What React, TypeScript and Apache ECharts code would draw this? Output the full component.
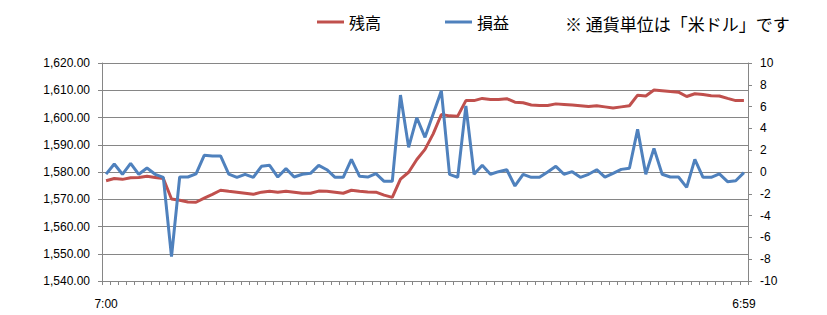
import React, { useEffect, useRef } from "react";
import * as echarts from "echarts";

const categories: string[] = [
  "7:00", "7:18", "7:37", "7:55", "8:14", "8:32", "8:51", "9:09", "9:28", "9:46",
  "10:04", "10:23", "10:41", "11:00", "11:18", "11:37", "11:55", "12:14", "12:32", "12:51",
  "13:09", "13:27", "13:46", "14:04", "14:23", "14:41", "15:00", "15:18", "15:37", "15:55",
  "16:13", "16:32", "16:50", "17:09", "17:27", "17:46", "18:04", "18:23", "18:41", "18:59",
  "19:18", "19:36", "19:55", "20:13", "20:32", "20:50", "21:09", "21:27", "21:46", "22:04",
  "22:22", "22:41", "22:59", "23:18", "23:36", "23:55", "0:13", "0:32", "0:50", "1:08",
  "1:27", "1:45", "2:04", "2:22", "2:41", "2:59", "3:18", "3:36", "3:55", "4:13",
  "4:31", "4:50", "5:08", "5:27", "5:45", "6:04", "6:22", "6:41", "6:59",
];

const balance: number[] = [
  1576.8, 1577.6, 1577.3, 1577.9, 1578.0, 1578.4, 1578.0, 1577.6, 1570.1, 1569.6,
  1569.0, 1568.9, 1570.4, 1571.8, 1573.3, 1572.9, 1572.6, 1572.2, 1571.8, 1572.6,
  1572.9, 1572.6, 1572.9, 1572.6, 1572.2, 1572.2, 1573.0, 1572.9, 1572.6, 1572.2,
  1573.3, 1572.9, 1572.7, 1572.6, 1571.5, 1570.7, 1577.4, 1579.9, 1584.6, 1588.3,
  1594.0, 1601.1, 1600.6, 1600.5, 1606.2, 1606.2, 1607.0, 1606.6, 1606.6, 1606.9,
  1605.6, 1605.4, 1604.6, 1604.4, 1604.4, 1605.0, 1604.8, 1604.6, 1604.3, 1604.0,
  1604.3, 1603.9, 1603.5, 1603.9, 1604.3, 1608.2, 1607.9, 1610.1, 1609.8, 1609.5,
  1609.3, 1607.7, 1608.7, 1608.4, 1608.0, 1607.9, 1607.0, 1606.2, 1606.2,
];

const profit: number[] = [
  -0.2, 0.73, -0.21, 0.8, -0.21, 0.37, -0.21, -0.49, -7.77, -0.46,
  -0.46, -0.18, 1.53, 1.47, 1.47, -0.2, -0.49, -0.21, -0.49, 0.52,
  0.61, -0.46, 0.31, -0.46, -0.21, -0.12, 0.61, 0.21, -0.49, -0.49,
  1.16, -0.4, -0.46, -0.15, -0.86, -0.86, 7.06, 2.26, 4.98, 3.18,
  5.32, 7.46, -0.21, -0.49, 6.06, -0.21, 0.61, -0.21, 0.03, 0.21,
  -1.28, -0.21, -0.49, -0.49, 0, 0.52, -0.21, 0.03, -0.49, -0.21,
  0.21, -0.46, -0.12, 0.24, 0.34, 3.91, -0.21, 2.17, -0.21, -0.46,
  -0.46, -1.41, 1.16, -0.49, -0.49, -0.18, -0.89, -0.8, -0.06,
];

const seriesNames = ["残高", "損益"];
const noteText = "※ 通貨単位は「米ドル」です";

const GRAY = "#868686";
const RED = "#C0504D";
const BLUE = "#4F81BD";
const FONT = "'Liberation Sans', Arial, sans-serif";
const CJK = "'Noto Sans CJK JP', sans-serif";

export default function App() {
  const ref = useRef<HTMLDivElement>(null);
  useEffect(() => {
    if (!ref.current) return;
    const chart = echarts.init(ref.current, undefined, { renderer: "svg" });
    const last = categories.length - 1;
    chart.setOption({
      animation: false,
      backgroundColor: "#ffffff",
      grid: { left: 102, right: 79, top: 63, bottom: 34, containLabel: false },
      legend: {
        left: 317,
        top: 14,
        padding: 0,
        icon: "rect",
        itemWidth: 27,
        itemHeight: 3,
        itemGap: 64,
        textStyle: { fontFamily: CJK, fontSize: 16, color: "#000" },
        data: [
          { name: seriesNames[0], itemStyle: { color: RED } },
          { name: seriesNames[1], itemStyle: { color: BLUE } },
        ],
      },
      graphic: [
        {
          type: "text",
          left: 565,
          top: 15,
          style: { text: noteText, fontFamily: CJK, fontSize: 17, fill: "#000" },
        },
      ],
      xAxis: {
        type: "category",
        data: categories,
        boundaryGap: true,
        axisLine: { onZero: false, lineStyle: { color: GRAY, width: 1 } },
        axisTick: { show: true, interval: 0, length: 4, lineStyle: { color: GRAY } },
        axisLabel: {
          interval: (i: number) => i === 0 || i === last,
          margin: 17,
          fontFamily: FONT,
          fontSize: 12,
          color: "#000",
        },
        splitLine: { show: false },
      },
      yAxis: [
        {
          type: "value",
          min: 1540,
          max: 1620,
          interval: 10,
          position: "left",
          axisLine: { show: true, lineStyle: { color: GRAY } },
          axisTick: { show: true, length: 4, lineStyle: { color: GRAY } },
          axisLabel: {
            margin: 12,
            fontFamily: FONT,
            fontSize: 12,
            color: "#000",
            formatter: (v: number) =>
              v.toLocaleString("en-US", { minimumFractionDigits: 2, maximumFractionDigits: 2 }),
          },
          splitLine: { show: true, lineStyle: { color: GRAY, width: 1 } },
        },
        {
          type: "value",
          min: -10,
          max: 10,
          interval: 2,
          position: "right",
          axisLine: { show: true, lineStyle: { color: GRAY } },
          axisTick: { show: true, length: 4, lineStyle: { color: GRAY } },
          axisLabel: { margin: 12, fontFamily: FONT, fontSize: 12, color: "#000" },
          splitLine: { show: false },
        },
      ],
      series: [
        {
          name: seriesNames[0],
          type: "line",
          yAxisIndex: 0,
          data: balance,
          symbol: "none",
          lineStyle: { color: RED, width: 3 },
          itemStyle: { color: RED },
        },
        {
          name: seriesNames[1],
          type: "line",
          yAxisIndex: 1,
          data: profit,
          symbol: "none",
          lineStyle: { color: BLUE, width: 3 },
          itemStyle: { color: BLUE },
        },
      ],
    });
    return () => chart.dispose();
  }, []);
  return (
    <div
      ref={ref}
      style={{ position: "fixed", left: 0, top: 0, width: 827, height: 315, background: "#fff" }}
    />
  );
}
